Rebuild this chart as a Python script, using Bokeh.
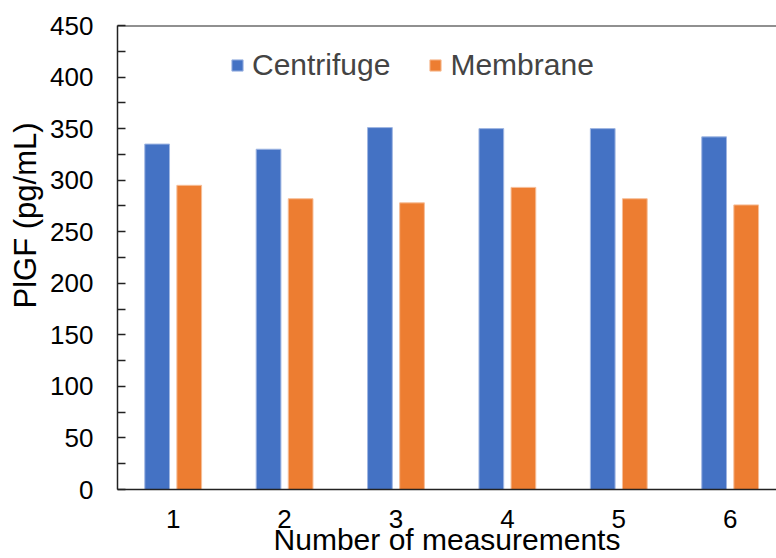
from bokeh.plotting import figure
from bokeh.models import ColumnDataSource, FixedTicker, Legend, LegendItem, Span, Range1d, Title
from bokeh.transform import dodge
from bokeh.embed import file_html
from bokeh.resources import INLINE

measurements = [1, 2, 3, 4, 5, 6]
centrifuge = [335, 330, 351, 350, 350, 342]
membrane = [295, 282, 278, 293, 282, 276]
y_ticks = [0, 50, 100, 150, 200, 250, 300, 350, 400, 450]
x_title = "Number of measurements"
y_title = "PlGF (pg/mL)"

src = ColumnDataSource(dict(x=measurements, c=centrifuge, m=membrane))

FONT = "Liberation Sans"
BLUE = "#4472C4"
ORANGE = "#ED7D31"

p = figure(width=776, height=558, output_backend="svg", toolbar_location=None,
           x_range=Range1d(0.5, 6.416), y_range=Range1d(0, 450),
           min_border_left=117, min_border_top=25, min_border_bottom=69, min_border_right=0)
p.outline_line_color = None
p.grid.grid_line_color = None
p.background_fill_color = "white"
p.border_fill_color = "white"

r1 = p.vbar(x=dodge("x", -0.144), top="c", width=0.222, source=src,
            fill_color=BLUE, line_color="#9FB6E2", line_width=1)
r2 = p.vbar(x=dodge("x", 0.144), top="m", width=0.222, source=src,
            fill_color=ORANGE, line_color="#F6BE98", line_width=1)

# x axis
xa = p.xaxis[0]
xa.ticker = FixedTicker(ticks=measurements)
xa.major_tick_line_color = None
xa.minor_tick_line_color = None
xa.axis_line_color = "#222222"
xa.axis_line_width = 1.5
xa.major_label_text_font = FONT
xa.major_label_text_font_size = "26px"
xa.major_label_text_color = "black"
xa.major_label_standoff = 14
xa.axis_label = x_title
xa.axis_label_text_font = FONT
xa.axis_label_text_font_size = "30px"
xa.axis_label_text_font_style = "normal"
xa.axis_label_text_color = "black"
xa.axis_label_standoff = -8

# y axis
ya = p.yaxis[0]
ya.ticker = FixedTicker(ticks=y_ticks, minor_ticks=[v + 25 for v in y_ticks[:-1]])
ya.axis_line_color = "#222222"
ya.axis_line_width = 1.5
ya.major_tick_in = 8
ya.major_tick_out = 0
ya.minor_tick_in = 8
ya.minor_tick_out = 0
ya.major_tick_line_color = "#222222"
ya.minor_tick_line_color = "#222222"
ya.major_tick_line_width = 1.5
ya.minor_tick_line_width = 1.5
ya.major_label_text_font = FONT
ya.major_label_text_font_size = "26px"
ya.major_label_text_color = "black"
ya.major_label_standoff = 24

p.add_layout(Title(text=y_title, align="left", offset=181, standoff=9,
                   text_font=FONT, text_font_size="31px", text_font_style="normal",
                   text_color="black"), "left")

p.add_layout(Span(location=450, dimension="width", line_color="#222222", line_width=2))

legend = Legend(items=[LegendItem(label="Centrifuge", renderers=[r1]),
                       LegendItem(label="Membrane", renderers=[r2])],
                orientation="horizontal", location=(113, 407),
                border_line_color=None, background_fill_alpha=0,
                label_text_font=FONT, label_text_font_size="30px",
                glyph_width=14, glyph_height=14, label_standoff=8, spacing=38,
                padding=0, margin=0)
p.add_layout(legend, "center")

open("out.html", "w").write(file_html(p, INLINE))
